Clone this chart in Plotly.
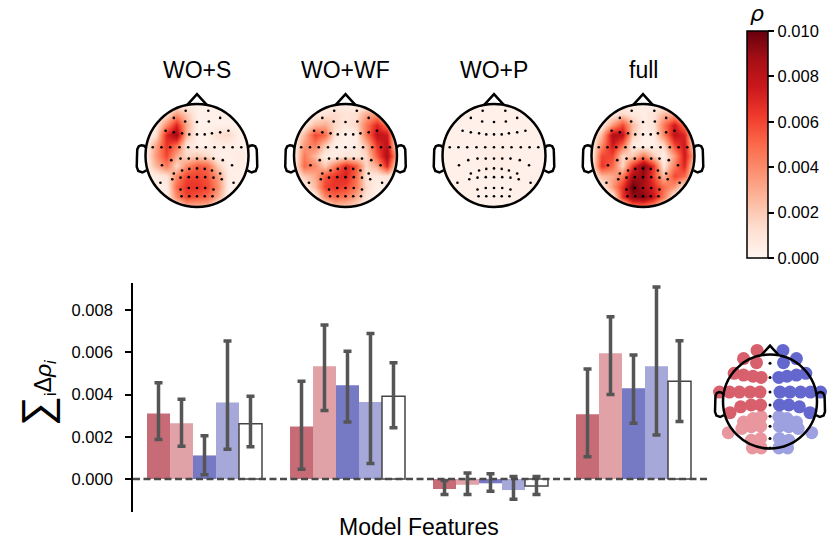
import numpy as np
import plotly.graph_objects as go

W, H = 833, 543

# ---------------- data ----------------
FEATURES = ["WO+S", "WO+WF", "WO+P", "full"]

# bar means and error-bar bounds (one value per model feature set)
LA = [0.00311, 0.00249, -0.00047, 0.00307]
LA_HI = [0.00456, 0.00463, -0.00007, 0.00521]
LA_LO = [0.00188, 0.00047, -0.00073, 0.00106]

LP = [0.00264, 0.00535, -0.00027, 0.00596]
LP_HI = [0.00378, 0.00730, 0.00029, 0.00769]
LP_LO = [0.00156, 0.00325, -0.00073, 0.00401]

RA = [0.00112, 0.00444, -0.00020, 0.00430]
RA_HI = [0.00205, 0.00606, 0.00025, 0.00588]
RA_LO = [0.00020, 0.00270, -0.00058, 0.00264]

RP = [0.00363, 0.00365, -0.00052, 0.00534]
RP_HI = [0.00654, 0.00690, 0.00012, 0.00910]
RP_LO = [0.00141, 0.00074, -0.00096, 0.00209]

ALL = [0.00262, 0.00393, -0.00033, 0.00463]
ALL_HI = [0.00393, 0.00551, 0.00012, 0.00655]
ALL_LO = [0.00153, 0.00243, -0.00073, 0.00273]

Y_TICKS = [0.0, 0.002, 0.004, 0.006, 0.008]
CB_TICKS = [0.0, 0.002, 0.004, 0.006, 0.008, 0.010]

# topomap grids (units of 1e-3), rows from front (y=+1) to back (y=-1), columns left->right
GRID_X = [-1.0, -0.8, -0.6, -0.4, -0.2, 0.0, 0.2, 0.4, 0.6, 0.8, 1.0]
GRID_Y = [1.0, 0.8, 0.6, 0.4, 0.2, 0.0, -0.2, -0.4, -0.6, -0.8, -1.0]

MAP_WO_S = [
    [.3, .3, .3, .3, .3, .3, .3, .3, .3, .3, .3],
    [.3, .3, 1, 3.5, 2, .3, .3, .3, .3, .3, .3],
    [.3, .5, 4, 7, 3, .3, .3, .3, .3, .3, .3],
    [.3, 1, 7, 9, 2.5, .3, .3, 1.2, 1.5, .3, .3],
    [.3, 3, 6.5, 5, 1, .3, .3, .5, .5, .3, .3],
    [.3, 3.5, 6, 3, 1.5, 2, 1.5, .3, .3, .6, .3],
    [.3, 2.5, 4.5, 1.5, 4, 5.5, 5, 2, .3, .5, .3],
    [.3, .5, 1, 4, 6, 6, 5.5, 3.5, .5, .3, .3],
    [.3, .3, .5, 5, 6.5, 6.5, 6, 4, .3, .3, .3],
    [.3, .3, .3, 4, 6, 5.5, 5, 3, .3, .3, .3],
    [.3, .3, .3, .3, 2.5, 2.5, 2.5, .3, .3, .3, .3],
]
MAP_WO_WF = [
    [.3, .3, .3, .3, .3, .3, .3, .3, .3, .3, .3],
    [.3, .3, .5, 1, 1.5, 1, 1.2, 3, 3.5, .3, .3],
    [.3, .5, 2.5, 3, 1.5, .8, 1.5, 4.5, 7, 4.5, .3],
    [.3, 2.5, 6, 5, 1, .2, .5, 4.5, 8, 7.5, .3],
    [.3, 3.5, 4.5, 2, .3, .2, .5, 2.5, 6.5, 8, .5],
    [.3, 4.5, 2.5, .5, .5, 1, .8, 1.5, 5.5, 8.5, 3],
    [.3, 5, 4, 2, 4.5, 7, 5.5, 1.5, 3, 7, .5],
    [.3, 2, 3, 5.5, 6.5, 7, 5, 1, .8, 1, .3],
    [.3, .3, 2.5, 6, 6.5, 6, 4.5, 1.5, .3, .3, .3],
    [.3, .3, .3, 4, 5, 4.5, 3, 1, .3, .3, .3],
    [.3, .3, .3, .3, 2, 2, 1.5, .3, .3, .3, .3],
]
MAP_WO_P = [
    [.3, .3, .3, .3, .3, .3, .3, .3, .3, .3, .3],
    [.3, .3, .3, .3, .3, .3, .3, .3, .3, .3, .3],
    [.3, .3, .3, .3, .3, .3, .3, .3, .3, .3, .3],
    [.3, .3, .3, .3, .3, .3, .3, .3, .3, .3, .3],
    [.3, .3, .3, .3, .4, .4, .4, .3, .3, .3, .3],
    [.3, .3, .3, .3, .4, .5, .4, .3, .3, .3, .3],
    [.3, .3, .3, .3, .4, .4, .4, .3, .3, .3, .3],
    [.3, .3, .3, .3, .3, .3, .3, .3, .3, .4, .3],
    [.3, .3, .3, .3, .3, .3, .3, .3, .3, .3, .3],
    [.3, .3, .3, .3, .3, .3, .3, .3, .3, .3, .3],
    [.3, .3, .3, .3, .3, .3, .3, .3, .3, .3, .3],
]
MAP_FULL = [
    [.3, .3, .3, .3, .3, .3, .3, .3, .3, .3, .3],
    [.3, .3, .5, 1.5, .8, .5, 1, 2.5, 3, .3, .3],
    [.3, .5, 3.5, 6, 2.5, .5, 1, 4.5, 7.5, 4.5, .3],
    [.3, 2.5, 8.5, 8, 2, .3, .5, 4, 8, 7, .3],
    [.3, 4, 7.5, 5, .5, .2, .3, 1.5, 6, 7.5, .5],
    [.3, 6, 6, 1.5, 2, 4.5, 2, .3, 3.5, 7.5, 3],
    [.3, 6.5, 5, 1.5, 6.5, 9.5, 6.5, .8, 4.5, 7, .5],
    [.3, 2.5, 3, 4.5, 8.5, 9, 6, 2.5, 6, 5, .3],
    [.3, .3, 3.5, 6.5, 10, 8.5, 7, 5, 3.5, .3, .3],
    [.3, .3, .3, 6.5, 9, 9.5, 7.5, 4.5, .3, .3, .3],
    [.3, .3, .3, .3, 4.5, 4.5, 3.5, .3, .3, .3, .3],
]
MAPS = [MAP_WO_S, MAP_WO_WF, MAP_WO_P, MAP_FULL]

# electrode positions (left hemisphere; right hemisphere is the mirror image), normalised head radius
ELEC_LEFT_X = [-0.22,
               -0.45, -0.23,
               -0.61, -0.45, -0.29, -0.15,
               -0.86, -0.69, -0.52, -0.34, -0.17,
               -0.68, -0.50, -0.32, -0.16,
               -0.45, -0.29, -0.15,
               -0.71, -0.48, -0.32, -0.16,
               -0.32, -0.16,
               -0.30, -0.15]
ELEC_LEFT_Y = [0.87,
               0.73, 0.66,
               0.48, 0.45, 0.43, 0.41,
               0.16, 0.16, 0.16, 0.16, 0.16,
               -0.19, -0.09, -0.06, -0.06,
               -0.35, -0.29, -0.26,
               -0.53, -0.46, -0.43, -0.42,
               -0.66, -0.63,
               -0.79, -0.79]
ELEC_LEFT_ANTERIOR = [1] * 16 + [0] * 11
ELEC_MID_Y = [0.65, 0.41, 0.16, -0.06, -0.25, -0.42, -0.63, -0.79]

# ---------------- colours ----------------
REDS = [[0.0, "rgb(255,245,240)"], [0.125, "rgb(254,224,210)"], [0.25, "rgb(252,187,161)"],
        [0.375, "rgb(252,146,114)"], [0.5, "rgb(251,106,74)"], [0.625, "rgb(239,59,44)"],
        [0.75, "rgb(203,24,29)"], [0.875, "rgb(165,15,21)"], [1.0, "rgb(103,0,13)"]]
C_LA = "rgb(199,108,118)"
C_LP = "rgb(224,162,166)"
C_RA = "rgb(118,121,196)"
C_RP = "rgb(165,168,216)"
ERR_C = "#555555"
FONT = "Liberation Sans, Arial, sans-serif"


def px_x(p):
    return p / W


def px_y(p):
    return 1 - p / H


fig = go.Figure()

# ---------------- bar chart ----------------
bar_specs = [(LA, LA_HI, LA_LO, C_LA), (LP, LP_HI, LP_LO, C_LP), (RA, RA_HI, RA_LO, C_RA),
             (RP, RP_HI, RP_LO, C_RP), (ALL, ALL_HI, ALL_LO, "white")]
for i, (m, hi, lo, col) in enumerate(bar_specs):
    fig.add_trace(go.Bar(
        x=FEATURES, y=m, marker=dict(color=col,
                                     line=dict(color="#444444" if i == 4 else col, width=1.5 if i == 4 else 0)),
        error_y=dict(type="data", symmetric=False,
                     array=[h - v for h, v in zip(hi, m)],
                     arrayminus=[v - l for v, l in zip(m, lo)],
                     color=ERR_C, thickness=3.5, width=4),
        xaxis="x", yaxis="y", showlegend=False))

fig.update_layout(
    barmode="group", bargap=0.196, bargroupgap=0.0,
    xaxis=dict(domain=[px_x(133), px_x(705)], range=[-0.5, 3.5], showticklabels=False,
               showline=False, ticks="", showgrid=False, zeroline=False, anchor="y"),
    yaxis=dict(domain=[px_y(512), px_y(283)], range=[-0.00156, 0.00929], showline=True,
               linecolor="black", linewidth=1.6, ticks="outside", ticklen=6, tickwidth=1.6,
               tickcolor="black", tickvals=Y_TICKS, ticktext=[f"{v:.3f}" for v in Y_TICKS],
               tickfont=dict(family=FONT, size=16.5, color="black"), showgrid=False,
               zeroline=False, anchor="x", ticklabelstandoff=9),
)

shapes = [dict(type="line", xref="x domain", yref="y", x0=0, x1=1.004, y0=0, y1=0,
               line=dict(color="#4a4a4a", width=2.4, dash="7px,3.5px"), layer="above")]

# ---------------- topomaps ----------------
HEAD_CX = [197, 345.5, 494, 643]
HEAD_CY = 155.5
HEAD_R = 51.5
HALF = 65
RNG = HALF / HEAD_R

elec_x = ELEC_LEFT_X + [-v for v in ELEC_LEFT_X] + [0.0] * len(ELEC_MID_Y)
elec_y = ELEC_LEFT_Y + ELEC_LEFT_Y + ELEC_MID_Y

theta = np.linspace(0, 2 * np.pi, 121)
circle_pts = " ".join(f"L {np.cos(t):.4f},{np.sin(t):.4f}" for t in theta[1:])
mask_path = ("M -2,-2 L 2,-2 L 2,2 L -2,2 Z M 1,0 " + circle_pts + " Z")
EAR_X = [0.985, 1.03, 1.08, 1.13, 1.16, 1.165, 1.17, 1.14, 1.06, 0.98]
EAR_Y = [0.15, 0.19, 0.2, 0.18, 0.12, -0.02, -0.22, -0.3, -0.33, -0.29]


def ear_path(sign):
    pts = [f"{sign * x:.3f},{y:.3f}" for x, y in zip(EAR_X, EAR_Y)]
    return "M " + " L ".join(pts)


def head_shapes(xr, yr, lw=2.5):
    return [
        dict(type="path", xref=xr, yref=yr, path=mask_path, fillcolor="white",
             fillrule="evenodd", line=dict(width=0), layer="above"),
        dict(type="circle", xref=xr, yref=yr, x0=-1, x1=1, y0=-1, y1=1,
             line=dict(color="black", width=lw), layer="above"),
        dict(type="path", xref=xr, yref=yr, path="M -0.19,0.982 L 0,1.19 L 0.19,0.982",
             line=dict(color="black", width=lw), layer="above"),
        dict(type="path", xref=xr, yref=yr, path=ear_path(-1), line=dict(color="black", width=lw),
             layer="above"),
        dict(type="path", xref=xr, yref=yr, path=ear_path(1), line=dict(color="black", width=lw),
             layer="above"),
    ]


annotations = []
for k, (name, grid) in enumerate(zip(FEATURES, MAPS)):
    ax = k + 2
    xa, ya = f"x{ax}", f"y{ax}"
    cx = HEAD_CX[k]
    fig.add_trace(go.Heatmap(
        x=GRID_X, y=GRID_Y, z=[[v * 1e-3 for v in row] for row in grid],
        coloraxis="coloraxis", zsmooth="best", xaxis=xa, yaxis=ya, hoverinfo="skip"))
    fig.add_trace(go.Scatter(
        x=elec_x, y=elec_y, mode="markers", marker=dict(color="black", size=2.6),
        xaxis=xa, yaxis=ya, showlegend=False, hoverinfo="skip"))
    fig.layout[f"xaxis{ax}"] = dict(domain=[px_x(cx - HALF), px_x(cx + HALF)], range=[-RNG, RNG],
                                    visible=False, anchor=ya, fixedrange=True)
    fig.layout[f"yaxis{ax}"] = dict(domain=[px_y(HEAD_CY + HALF), px_y(HEAD_CY - HALF)],
                                    range=[-RNG, RNG], visible=False, anchor=xa, fixedrange=True)
    shapes += head_shapes(xa, ya)
    annotations.append(dict(text=name, x=px_x(cx), y=px_y(70), xref="paper", yref="paper",
                            showarrow=False, xanchor="center", yanchor="middle",
                            font=dict(family=FONT, size=23, color="black")))

# ---------------- electrode-group head ----------------
HC_X, HC_Y, HC_R = 770, 401.5, 47
SCALE = 1.25
xa6, ya6 = "x6", "y6"
fig.layout["xaxis6"] = dict(domain=[px_x(706), 1.0], range=[-64 / HC_R, 63 / HC_R], visible=False,
                            anchor=ya6, fixedrange=True)
fig.layout["yaxis6"] = dict(domain=[px_y(HC_Y + 65), px_y(HC_Y - 65)], range=[-65 / HC_R, 65 / HC_R],
                            visible=False, anchor=xa6, fixedrange=True)
groups = [
    ([x for x, a in zip(ELEC_LEFT_X, ELEC_LEFT_ANTERIOR) if a == 0],
     [y for y, a in zip(ELEC_LEFT_Y, ELEC_LEFT_ANTERIOR) if a == 0], "rgb(233,150,158)"),
    ([-x for x, a in zip(ELEC_LEFT_X, ELEC_LEFT_ANTERIOR) if a == 0],
     [y for y, a in zip(ELEC_LEFT_Y, ELEC_LEFT_ANTERIOR) if a == 0], "rgb(158,161,224)"),
    ([x for x, a in zip(ELEC_LEFT_X, ELEC_LEFT_ANTERIOR) if a == 1],
     [y for y, a in zip(ELEC_LEFT_Y, ELEC_LEFT_ANTERIOR) if a == 1], "rgb(216,96,108)"),
    ([-x for x, a in zip(ELEC_LEFT_X, ELEC_LEFT_ANTERIOR) if a == 1],
     [y for y, a in zip(ELEC_LEFT_Y, ELEC_LEFT_ANTERIOR) if a == 1], "rgb(100,104,206)"),
]
for gx, gy, col in groups:
    fig.add_trace(go.Scatter(x=[v * SCALE for v in gx], y=[v * SCALE for v in gy], mode="markers",
                             marker=dict(color=col, size=13, line=dict(width=0)),
                             xaxis=xa6, yaxis=ya6, showlegend=False, hoverinfo="skip"))
fig.add_trace(go.Scatter(x=[0.0] * len(ELEC_MID_Y), y=[v * SCALE for v in ELEC_MID_Y], mode="markers",
                         marker=dict(color="black", size=3), xaxis=xa6, yaxis=ya6,
                         showlegend=False, hoverinfo="skip"))
for s in head_shapes(xa6, ya6, lw=2.5)[1:]:
    shapes.append(s)

# ---------------- labels ----------------
annotations.append(dict(text="Model Features", x=px_x(419), y=px_y(527), xref="paper", yref="paper",
                        showarrow=False, xanchor="center", yanchor="middle",
                        font=dict(family=FONT, size=23, color="black")))
annotations.append(dict(text="<span style='font-size:42px'>∑</span><sub>i</sub>Δ<i>ρ<sub>i</sub></i>",
                        x=px_x(36), y=px_y(393), xref="paper", yref="paper", textangle=-90,
                        showarrow=False, xanchor="center", yanchor="middle",
                        font=dict(family=FONT, size=23, color="black")))
annotations.append(dict(text="<i>ρ</i>", x=px_x(757), y=px_y(13), xref="paper", yref="paper",
                        showarrow=False, xanchor="center", yanchor="middle",
                        font=dict(family="DejaVu Sans, sans-serif", size=22, color="black")))

fig.update_layout(
    width=W, height=H, margin=dict(l=0, r=0, t=0, b=0),
    paper_bgcolor="white", plot_bgcolor="white", showlegend=False,
    font=dict(family=FONT, color="black"),
    coloraxis=dict(colorscale=REDS, cmin=0, cmax=0.01,
                   colorbar=dict(x=px_x(747), xanchor="left", xpad=0, y=px_y(31), yanchor="top",
                                 ypad=0, thickness=21, thicknessmode="pixels", len=227,
                                 lenmode="pixels", outlinewidth=1.5, outlinecolor="black",
                                 ticks="outside", ticklen=6, tickwidth=1.5, tickcolor="black",
                                 tickvals=CB_TICKS, ticktext=[f"{v:.3f}" for v in CB_TICKS],
                                 tickfont=dict(family=FONT, size=16.5, color="black"))),
    shapes=shapes, annotations=annotations,
)

fig.write_html("out.html")
